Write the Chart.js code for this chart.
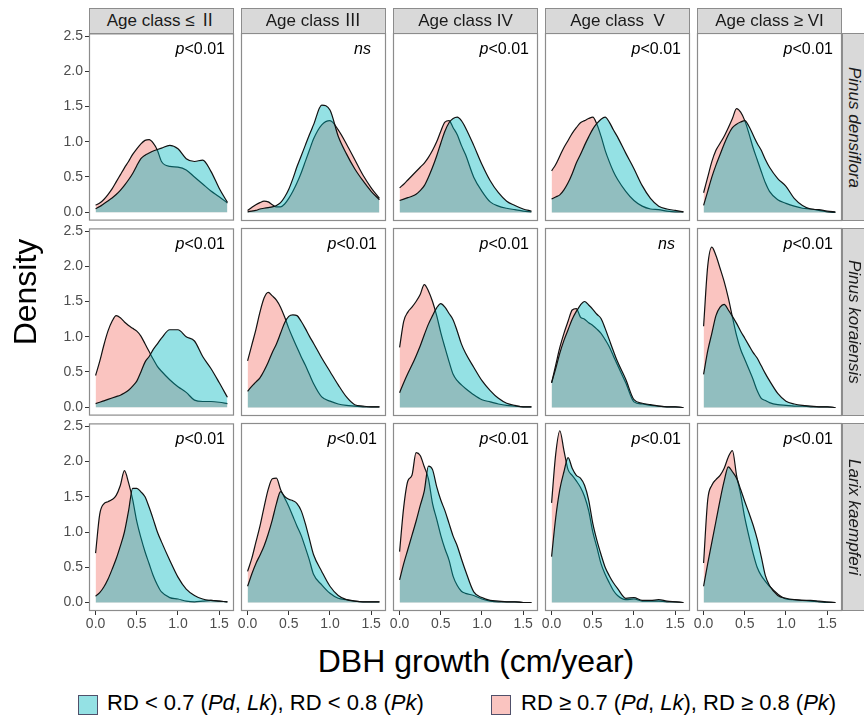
<!DOCTYPE html>
<html>
<head>
<meta charset="utf-8">
<script src="https://cdn.jsdelivr.net/npm/chart.js@4.4.1/dist/chart.umd.min.js"></script>
<style>
  html, body { margin: 0; padding: 0; background: #fff; }
  #fig { position: relative; width: 864px; height: 718px; overflow: hidden;
         font-family: "Liberation Sans", Arial, sans-serif; color: #000; }
  #fig canvas { position: absolute; }
  .strip { position: absolute; box-sizing: border-box; background: #d9d9d9;
           border: 1px solid #8c8c8c; color: #1a1a1a; font-size: 17px;
           font-family: "Liberation Sans", "Noto Sans CJK KR", sans-serif;
           text-align: center; white-space: pre; }
  .vstrip { writing-mode: vertical-rl; font-style: italic; display: flex;
            align-items: center; justify-content: center; }
  .plab { position: absolute; font-size: 16px; line-height: 16px; color: #000;
          white-space: nowrap; text-align: right; width: 80px; }
  .title { position: absolute; font-size: 32px; line-height: 32px; text-align: center;
           white-space: nowrap; }
  .key { position: absolute; width: 20px; height: 20px; box-sizing: border-box;
         border: 1px solid #50506a; }
  .ltxt { position: absolute; font-size: 22px; line-height: 22px; white-space: nowrap; }
</style>
</head>
<body>
<div id="fig"></div>
<script>
/* Density of DBH growth by age class, species and RD group (facet grid) */

// ---- Data ----
const X_GRID = [0, 0.05, 0.1, 0.15, 0.2, 0.25, 0.3, 0.35, 0.4, 0.45, 0.5, 0.55, 0.6,
                0.65, 0.7, 0.75, 0.8, 0.9, 1.0, 1.1, 1.2, 1.3, 1.4, 1.5, 1.6];
const X_TICKS = [0, 0.5, 1.0, 1.5];
const Y_TICKS = [0, 0.5, 1.0, 1.5, 2.0, 2.5];

const AGE_CLASSES = ['Age class ≤ Ⅱ', 'Age class Ⅲ', 'Age class IV', 'Age class  V', 'Age class ≥ VI'];
const SPECIES = ['Pinus densiflora', 'Pinus koraiensis', 'Larix kaempferi'];
const LEGEND_LABELS = ['RD < 0.7 (Pd, Lk), RD < 0.8 (Pk)', 'RD ≥ 0.7 (Pd, Lk), RD ≥ 0.8 (Pk)'];
const P_LABELS = [
  ['p<0.01', 'ns', 'p<0.01', 'p<0.01', 'p<0.01'],
  ['p<0.01', 'p<0.01', 'p<0.01', 'ns', 'p<0.01'],
  ['p<0.01', 'p<0.01', 'p<0.01', 'p<0.01', 'p<0.01']
];

// Pinus densiflora, low RD (cyan) / high RD (red), one row per age class
const PD_LOW = [
  [0.05,0.08,0.12,0.16,0.20,0.25,0.31,0.38,0.46,0.55,0.66,0.76,0.81,0.84,0.87,0.89,0.91,0.95,0.90,0.76,0.72,0.74,0.58,0.34,0.14],
  [0.01,0.02,0.03,0.05,0.06,0.07,0.08,0.10,0.14,0.22,0.33,0.48,0.65,0.80,0.95,1.10,1.24,1.52,1.45,1.08,0.83,0.62,0.45,0.30,0.18],
  [0.17,0.19,0.21,0.23,0.26,0.31,0.38,0.50,0.64,0.80,0.98,1.15,1.27,1.33,1.35,1.30,1.20,0.95,0.68,0.45,0.28,0.16,0.10,0.05,0.02],
  [0.19,0.22,0.25,0.32,0.42,0.55,0.70,0.82,0.95,1.07,1.18,1.26,1.32,1.35,1.28,1.17,1.07,0.84,0.62,0.38,0.20,0.09,0.05,0.03,0.01],
  [0.10,0.30,0.50,0.67,0.82,0.97,1.10,1.20,1.25,1.28,1.30,1.22,1.10,0.98,0.88,0.75,0.64,0.48,0.37,0.20,0.10,0.05,0.04,0.02,0.01]
];
const PD_HIGH = [
  [0.10,0.13,0.18,0.25,0.33,0.43,0.53,0.63,0.72,0.82,0.90,0.97,1.02,1.03,0.98,0.88,0.72,0.65,0.64,0.60,0.50,0.40,0.30,0.22,0.13],
  [0.03,0.07,0.11,0.14,0.16,0.15,0.11,0.08,0.08,0.12,0.20,0.30,0.42,0.56,0.72,0.88,1.04,1.24,1.30,1.17,0.97,0.75,0.53,0.35,0.20],
  [0.35,0.40,0.46,0.52,0.58,0.64,0.70,0.78,0.88,1.00,1.15,1.28,1.30,1.20,1.10,0.95,0.82,0.50,0.30,0.15,0.09,0.06,0.04,0.02,0.01],
  [0.59,0.68,0.80,0.92,1.02,1.12,1.20,1.27,1.30,1.33,1.35,1.25,1.08,0.88,0.72,0.58,0.47,0.30,0.17,0.09,0.05,0.04,0.02,0.01,0.01],
  [0.28,0.50,0.72,0.88,0.98,1.08,1.20,1.33,1.47,1.42,1.30,1.12,0.92,0.75,0.58,0.42,0.30,0.18,0.13,0.09,0.06,0.05,0.03,0.01,0.00]
];

// Pinus koraiensis
const PK_LOW = [
  [0.05,0.07,0.09,0.11,0.13,0.15,0.17,0.20,0.24,0.30,0.37,0.50,0.64,0.72,0.82,0.90,0.98,1.10,1.10,1.00,0.94,0.72,0.55,0.35,0.14],
  [0.23,0.30,0.36,0.42,0.52,0.64,0.78,0.90,1.05,1.20,1.29,1.31,1.30,1.22,1.12,1.01,0.91,0.70,0.51,0.32,0.15,0.04,0.02,0.01,0.01],
  [0.21,0.35,0.48,0.60,0.73,0.87,1.03,1.18,1.30,1.41,1.47,1.42,1.33,1.24,1.08,0.90,0.77,0.57,0.38,0.24,0.13,0.06,0.03,0.01,0.01],
  [0.35,0.55,0.77,0.95,1.10,1.25,1.36,1.45,1.50,1.45,1.39,1.32,1.26,1.12,0.96,0.80,0.65,0.40,0.11,0.06,0.04,0.02,0.01,0.01,0.00],
  [0.47,0.80,1.05,1.30,1.42,1.46,1.38,1.29,1.19,1.08,0.98,0.88,0.78,0.70,0.59,0.48,0.38,0.20,0.09,0.05,0.03,0.02,0.01,0.01,0.00]
];
const PK_HIGH = [
  [0.45,0.65,0.88,1.08,1.22,1.30,1.27,1.21,1.16,1.12,1.08,1.01,0.90,0.79,0.68,0.58,0.51,0.39,0.29,0.21,0.10,0.08,0.08,0.07,0.05],
  [0.66,0.88,1.10,1.35,1.55,1.63,1.58,1.52,1.42,1.28,1.12,0.98,0.85,0.72,0.60,0.47,0.34,0.15,0.09,0.05,0.03,0.02,0.01,0.01,0.01],
  [0.85,1.22,1.35,1.42,1.50,1.60,1.74,1.65,1.50,1.30,1.06,0.85,0.65,0.47,0.38,0.32,0.27,0.18,0.11,0.08,0.05,0.03,0.02,0.01,0.01],
  [0.35,0.60,0.85,1.05,1.22,1.38,1.40,1.28,1.25,1.20,1.16,1.11,1.05,0.96,0.86,0.73,0.60,0.35,0.08,0.05,0.03,0.02,0.01,0.01,0.00],
  [1.15,2.00,2.27,2.15,1.97,1.78,1.55,1.28,1.02,0.82,0.68,0.54,0.40,0.24,0.13,0.10,0.07,0.04,0.03,0.02,0.02,0.01,0.01,0.01,0.00]
];

// Larix kaempferi
const LK_LOW = [
  [0.09,0.14,0.22,0.33,0.47,0.62,0.80,1.00,1.30,1.62,1.62,1.57,1.50,1.35,1.18,1.00,0.86,0.60,0.36,0.19,0.10,0.05,0.03,0.02,0.01],
  [0.23,0.40,0.55,0.67,0.80,0.97,1.17,1.40,1.57,1.50,1.46,1.44,1.40,1.30,1.12,0.90,0.68,0.44,0.23,0.10,0.04,0.02,0.01,0.01,0.01],
  [0.32,0.55,0.75,0.95,1.15,1.37,1.58,1.93,1.88,1.64,1.45,1.30,1.12,0.94,0.80,0.62,0.45,0.15,0.07,0.03,0.02,0.01,0.01,0.00,0.00],
  [0.65,1.20,1.60,1.85,2.05,1.90,1.80,1.76,1.66,1.45,1.12,0.88,0.68,0.50,0.38,0.28,0.20,0.06,0.07,0.03,0.03,0.04,0.02,0.01,0.00],
  [0.23,0.55,0.85,1.15,1.45,1.72,1.92,1.85,1.76,1.60,1.43,1.27,1.10,0.90,0.65,0.38,0.24,0.10,0.06,0.04,0.03,0.03,0.02,0.01,0.00]
];
const LK_HIGH = [
  [0.70,1.25,1.40,1.43,1.46,1.52,1.66,1.87,1.70,1.46,1.15,0.92,0.72,0.55,0.38,0.25,0.15,0.07,0.05,0.02,0.01,0.02,0.03,0.02,0.01],
  [0.44,0.62,0.85,1.08,1.35,1.60,1.75,1.76,1.60,1.48,1.36,1.22,1.08,0.95,0.78,0.60,0.40,0.25,0.13,0.06,0.04,0.02,0.01,0.01,0.01],
  [0.72,1.35,1.72,1.80,2.12,2.08,1.92,1.75,1.40,1.18,0.95,0.76,0.60,0.37,0.24,0.16,0.13,0.10,0.05,0.02,0.01,0.01,0.01,0.00,0.00],
  [1.41,2.10,2.43,2.15,1.88,1.80,1.72,1.63,1.50,1.30,1.00,0.78,0.55,0.40,0.28,0.17,0.10,0.04,0.05,0.02,0.02,0.02,0.01,0.01,0.00],
  [0.56,1.45,1.66,1.74,1.80,1.90,2.06,2.15,1.80,1.53,1.20,0.94,0.70,0.50,0.38,0.30,0.23,0.12,0.05,0.04,0.03,0.02,0.01,0.00,0.00]
];

const LOW  = [PD_LOW, PK_LOW, LK_LOW];
const HIGH = [PD_HIGH, PK_HIGH, LK_HIGH];

// ---- Layout / style ----
const FONT = '"Liberation Sans", Arial, sans-serif';
const PANEL_X = [89, 241, 393, 545, 697];
const PANEL_Y = [33, 228, 423];
const PW = 145, PH = 188;
const CYAN = 'rgba(0,184,190,0.42)';
const RED  = 'rgba(242,114,106,0.42)';

Chart.defaults.font.family = FONT;

const fig = document.getElementById('fig');

const panelBorder = {
  id: 'panelBorder',
  afterDraw(chart) {
    const { ctx, chartArea: a } = chart;
    ctx.save();
    ctx.strokeStyle = '#8c8c8c';
    ctx.lineWidth = 1.2;
    ctx.strokeRect(a.left + 0.5, a.top + 0.5, a.right - a.left - 1, a.bottom - a.top - 1);
    ctx.restore();
  }
};

function points(ys) {
  return X_GRID.map((x, i) => ({ x, y: ys[i] }));
}

function series(label, ys, fillColor) {
  return {
    label,
    data: points(ys),
    borderColor: '#111',
    borderWidth: 1.2,
    backgroundColor: fillColor,
    fill: 'origin',
    pointRadius: 0,
    cubicInterpolationMode: 'monotone'
  };
}

function makePanel(row, col) {
  const hasY = col === 0, hasX = row === 2;
  const padL = hasY ? 60 : 10;
  const padB = hasX ? 30 : 10;
  const padT = 10, padR = 10;
  const w = PW + padL + padR, h = PH + padT + padB;

  const cv = document.createElement('canvas');
  cv.width = w; cv.height = h;
  cv.style.width = w + 'px'; cv.style.height = h + 'px';
  cv.style.left = (PANEL_X[col] - padL) + 'px';
  cv.style.top = (PANEL_Y[row] - padT) + 'px';
  fig.appendChild(cv);

  const tickFont = { size: 14, family: FONT };
  new Chart(cv, {
    type: 'line',
    data: {
      datasets: [
        series(LEGEND_LABELS[0], LOW[row][col], CYAN),   // drawn on top
        series(LEGEND_LABELS[1], HIGH[row][col], RED)
      ]
    },
    options: {
      responsive: false,
      animation: false,
      events: [],
      layout: { padding: { left: hasY ? 0 : padL, right: padR, top: padT, bottom: hasX ? 0 : padB } },
      plugins: { legend: { display: false }, tooltip: { enabled: false } },
      scales: {
        x: {
          type: 'linear', min: -0.08, max: 1.68,
          display: hasX,
          afterBuildTicks: s => { s.ticks = X_TICKS.map(v => ({ value: v })); },
          afterFit: s => { s.height = hasX ? padB : 0; },
          grid: { drawOnChartArea: false, tickLength: 4, color: '#333' },
          border: { display: false },
          ticks: { color: '#4d4d4d', font: tickFont, padding: 1, maxRotation: 0,
                   callback: v => v.toFixed(1) }
        },
        y: {
          type: 'linear', min: -0.12, max: 2.54,
          display: hasY,
          afterBuildTicks: s => { s.ticks = Y_TICKS.map(v => ({ value: v })); },
          afterFit: s => { s.width = hasY ? padL : 0; },
          grid: { drawOnChartArea: false, tickLength: 4, color: '#333' },
          border: { display: false },
          ticks: { color: '#4d4d4d', font: tickFont, padding: 2,
                   callback: v => v.toFixed(1) }
        }
      }
    },
    plugins: [panelBorder]
  });
}

function el(cls, html, css) {
  const d = document.createElement('div');
  d.className = cls;
  d.innerHTML = html;
  Object.assign(d.style, css);
  fig.appendChild(d);
  return d;
}

function italicize(s) {
  return s.replace(/</g, '&lt;').replace(/\b(Pd|Lk|Pk)\b/g, '<i>$1</i>');
}

function pLabelHtml(s) {
  if (s === 'ns') return '<i>ns</i>';
  return '<i>p</i>' + s.slice(1).replace('<', '&lt;');
}

// ---- Build ----
for (let r = 0; r < SPECIES.length; r++) {
  for (let c = 0; c < AGE_CLASSES.length; c++) makePanel(r, c);
}

// top strips
AGE_CLASSES.forEach((name, c) => {
  el('strip', name, { left: PANEL_X[c] + 'px', top: '8px', width: PW + 'px', height: '26px', lineHeight: '24px' });
});
// right strips
SPECIES.forEach((name, r) => {
  el('strip vstrip', name, { left: '842px', top: PANEL_Y[r] + 'px', width: '24px', height: PH + 'px' });
});
// p labels
P_LABELS.forEach((rowLabels, r) => {
  rowLabels.forEach((s, c) => {
    const margin = s === 'ns' ? 15 : 9;
    el('plab', pLabelHtml(s), {
      left: (PANEL_X[c] + PW - margin - 80) + 'px',
      top: (PANEL_Y[r] + 8) + 'px'
    });
  });
});

// axis titles
el('title', 'DBH growth (cm/year)', { left: '276px', top: '645px', width: '400px' });
el('title', 'Density', { left: '-75px', top: '276px', width: '200px', transform: 'rotate(-90deg)' });

// legend
el('key', '', { left: '78px', top: '695px', background: CYAN });
el('ltxt', italicize(LEGEND_LABELS[0]), { left: '107px', top: '692px' });
el('key', '', { left: '491px', top: '695px', background: RED });
el('ltxt', italicize(LEGEND_LABELS[1]), { left: '521px', top: '692px' });
</script>
</body>
</html>
